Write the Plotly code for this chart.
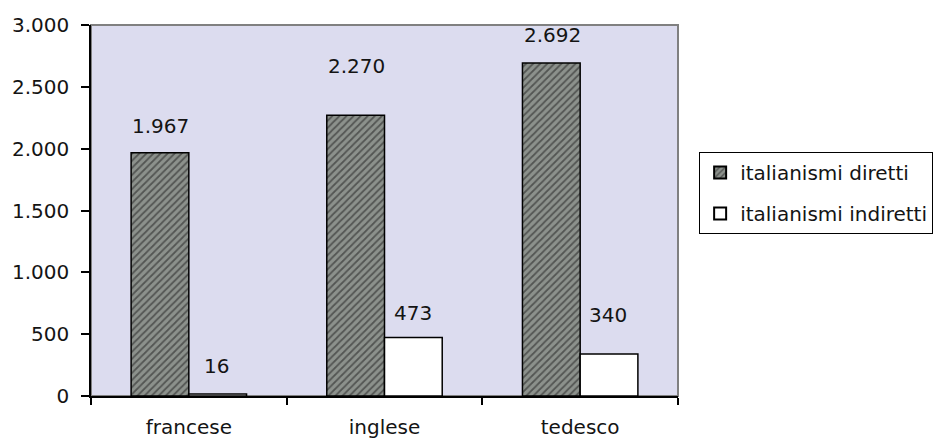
import plotly.graph_objects as go

categories = ["francese", "inglese", "tedesco"]
diretti = [1967, 2270, 2692]
indiretti = [16, 473, 340]
series_names = ["italianismi diretti", "italianismi indiretti"]
y_ticks = [0, 500, 1000, 1500, 2000, 2500, 3000]
label_lift_diretti = [27, 49, 28]
label_lift_indiretti = [28, 25, 39]

def fmt(v):
    return f"{v:,}".replace(",", ".")

FONT = "DejaVu Sans"
TXT = "#141414"
fig = go.Figure()
fig.add_trace(go.Bar(
    x=categories, y=diretti, name=series_names[0], legendgroup="a",
    marker=dict(color="#8c918c", line=dict(color="black", width=1.5),
                pattern=dict(shape="/", bgcolor="#8c918c", fgcolor="#1a1a1a", size=5, solidity=0.35)),
))
fig.add_trace(go.Bar(
    x=categories, y=indiretti, name=series_names[1], legendgroup="b",
    marker=dict(color="white", line=dict(color="black", width=1.5)),
))

ann = []
for i, c in enumerate(categories):
    ann.append(dict(x=c, y=diretti[i], xref="x", yref="y", text=fmt(diretti[i]), showarrow=False,
                    xshift=-28, yshift=label_lift_diretti[i], yanchor="middle",
                    font=dict(family=FONT, size=20, color=TXT)))
    ann.append(dict(x=c, y=indiretti[i], xref="x", yref="y", text=fmt(indiretti[i]), showarrow=False,
                    xshift=28, yshift=label_lift_indiretti[i], yanchor="middle",
                    font=dict(family=FONT, size=20, color=TXT)))

fig.update_layout(
    width=936, height=440,
    margin=dict(l=91, r=258, t=25, b=44, autoexpand=False),
    paper_bgcolor="white", plot_bgcolor="#dcdcef",
    separators=",.",
    barmode="group", bargap=0.41, bargroupgap=0,
    font=dict(family=FONT, size=20, color=TXT),
    showlegend=True,
    legend=dict(x=1.036, y=0.658, xanchor="left", yanchor="top",
                bgcolor="white", bordercolor="black", borderwidth=1,
                font=dict(family=FONT, size=20, color=TXT),
                tracegroupgap=12, itemsizing="constant"),
    annotations=ann,
    shapes=[dict(type="rect", xref="paper", yref="paper", x0=0, x1=1, y0=0, y1=1,
                 line=dict(color="#808080", width=2), layer="below")],
)
fig.update_xaxes(showline=True, linecolor="black", linewidth=1.5, ticks="outside",
                 tickson="boundaries", ticklen=7, tickcolor="black", tickwidth=1.5,
                 showgrid=False, ticklabelstandoff=12, fixedrange=True, automargin=False)
fig.update_yaxes(range=[0, 3000], tickvals=y_ticks, tickformat=",d", showline=True,
                 linecolor="black", linewidth=1.5, ticks="outside", ticklen=8,
                 tickcolor="black", tickwidth=1.5, showgrid=False, zeroline=False,
                 ticklabelstandoff=8, automargin=False)

fig.write_html("out.html")
